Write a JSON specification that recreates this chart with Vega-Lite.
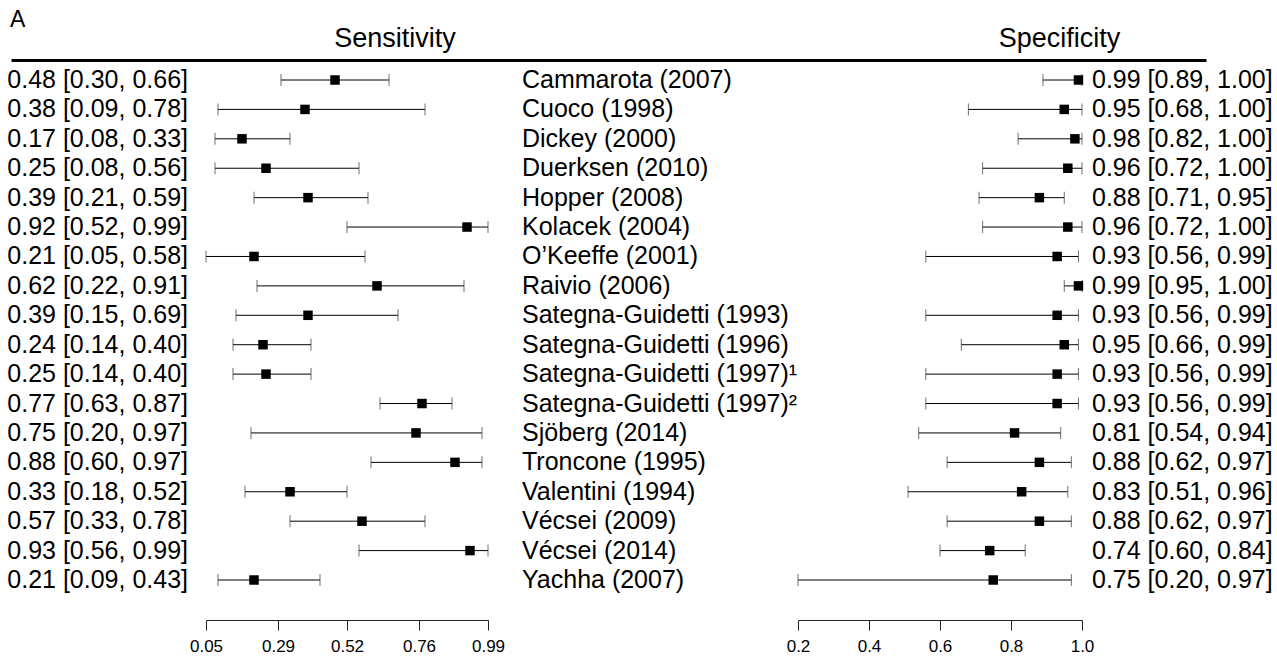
{
  "$schema": "https://vega.github.io/schema/vega-lite/v6.json",
  "width": 1277,
  "height": 560,
  "autosize": {"type": "none"},
  "padding": {"left": 0, "right": 0, "top": 60, "bottom": 44},
  "background": "white",
  "config": {"view": {"stroke": null}, "font": "Liberation Sans", "axis": {"grid": false, "labelFontSize": 17, "labelColor": "black", "labelFont": "Liberation Sans"}},
  "title": {"text": "A", "anchor": "start", "frame": "group", "fontSize": 23, "fontWeight": "normal", "font": "Liberation Sans", "color": "black", "dx": 10, "dy": 8, "offset": 0},
  "datasets": {
    "panels": [{"panel": "Sensitivity"}, {"panel": "Specificity"}],
    "studies": [
      {"study": "Cammarota (2007)", "sens": 0.48, "sens_lo": 0.30, "sens_hi": 0.66, "sens_label": "0.48 [0.30, 0.66]", "spec": 0.99, "spec_lo": 0.89, "spec_hi": 1.00, "spec_label": "0.99 [0.89, 1.00]"},
      {"study": "Cuoco (1998)", "sens": 0.38, "sens_lo": 0.09, "sens_hi": 0.78, "sens_label": "0.38 [0.09, 0.78]", "spec": 0.95, "spec_lo": 0.68, "spec_hi": 1.00, "spec_label": "0.95 [0.68, 1.00]"},
      {"study": "Dickey (2000)", "sens": 0.17, "sens_lo": 0.08, "sens_hi": 0.33, "sens_label": "0.17 [0.08, 0.33]", "spec": 0.98, "spec_lo": 0.82, "spec_hi": 1.00, "spec_label": "0.98 [0.82, 1.00]"},
      {"study": "Duerksen (2010)", "sens": 0.25, "sens_lo": 0.08, "sens_hi": 0.56, "sens_label": "0.25 [0.08, 0.56]", "spec": 0.96, "spec_lo": 0.72, "spec_hi": 1.00, "spec_label": "0.96 [0.72, 1.00]"},
      {"study": "Hopper (2008)", "sens": 0.39, "sens_lo": 0.21, "sens_hi": 0.59, "sens_label": "0.39 [0.21, 0.59]", "spec": 0.88, "spec_lo": 0.71, "spec_hi": 0.95, "spec_label": "0.88 [0.71, 0.95]"},
      {"study": "Kolacek (2004)", "sens": 0.92, "sens_lo": 0.52, "sens_hi": 0.99, "sens_label": "0.92 [0.52, 0.99]", "spec": 0.96, "spec_lo": 0.72, "spec_hi": 1.00, "spec_label": "0.96 [0.72, 1.00]"},
      {"study": "O’Keeffe (2001)", "sens": 0.21, "sens_lo": 0.05, "sens_hi": 0.58, "sens_label": "0.21 [0.05, 0.58]", "spec": 0.93, "spec_lo": 0.56, "spec_hi": 0.99, "spec_label": "0.93 [0.56, 0.99]"},
      {"study": "Raivio (2006)", "sens": 0.62, "sens_lo": 0.22, "sens_hi": 0.91, "sens_label": "0.62 [0.22, 0.91]", "spec": 0.99, "spec_lo": 0.95, "spec_hi": 1.00, "spec_label": "0.99 [0.95, 1.00]"},
      {"study": "Sategna-Guidetti (1993)", "sens": 0.39, "sens_lo": 0.15, "sens_hi": 0.69, "sens_label": "0.39 [0.15, 0.69]", "spec": 0.93, "spec_lo": 0.56, "spec_hi": 0.99, "spec_label": "0.93 [0.56, 0.99]"},
      {"study": "Sategna-Guidetti (1996)", "sens": 0.24, "sens_lo": 0.14, "sens_hi": 0.40, "sens_label": "0.24 [0.14, 0.40]", "spec": 0.95, "spec_lo": 0.66, "spec_hi": 0.99, "spec_label": "0.95 [0.66, 0.99]"},
      {"study": "Sategna-Guidetti (1997)¹", "sens": 0.25, "sens_lo": 0.14, "sens_hi": 0.40, "sens_label": "0.25 [0.14, 0.40]", "spec": 0.93, "spec_lo": 0.56, "spec_hi": 0.99, "spec_label": "0.93 [0.56, 0.99]"},
      {"study": "Sategna-Guidetti (1997)²", "sens": 0.77, "sens_lo": 0.63, "sens_hi": 0.87, "sens_label": "0.77 [0.63, 0.87]", "spec": 0.93, "spec_lo": 0.56, "spec_hi": 0.99, "spec_label": "0.93 [0.56, 0.99]"},
      {"study": "Sjöberg (2014)", "sens": 0.75, "sens_lo": 0.20, "sens_hi": 0.97, "sens_label": "0.75 [0.20, 0.97]", "spec": 0.81, "spec_lo": 0.54, "spec_hi": 0.94, "spec_label": "0.81 [0.54, 0.94]"},
      {"study": "Troncone (1995)", "sens": 0.88, "sens_lo": 0.60, "sens_hi": 0.97, "sens_label": "0.88 [0.60, 0.97]", "spec": 0.88, "spec_lo": 0.62, "spec_hi": 0.97, "spec_label": "0.88 [0.62, 0.97]"},
      {"study": "Valentini (1994)", "sens": 0.33, "sens_lo": 0.18, "sens_hi": 0.52, "sens_label": "0.33 [0.18, 0.52]", "spec": 0.83, "spec_lo": 0.51, "spec_hi": 0.96, "spec_label": "0.83 [0.51, 0.96]"},
      {"study": "Vécsei (2009)", "sens": 0.57, "sens_lo": 0.33, "sens_hi": 0.78, "sens_label": "0.57 [0.33, 0.78]", "spec": 0.88, "spec_lo": 0.62, "spec_hi": 0.97, "spec_label": "0.88 [0.62, 0.97]"},
      {"study": "Vécsei (2014)", "sens": 0.93, "sens_lo": 0.56, "sens_hi": 0.99, "sens_label": "0.93 [0.56, 0.99]", "spec": 0.74, "spec_lo": 0.60, "spec_hi": 0.84, "spec_label": "0.74 [0.60, 0.84]"},
      {"study": "Yachha (2007)", "sens": 0.21, "sens_lo": 0.09, "sens_hi": 0.43, "sens_label": "0.21 [0.09, 0.43]", "spec": 0.75, "spec_lo": 0.20, "spec_hi": 0.97, "spec_label": "0.75 [0.20, 0.97]"}
    ]
  },
  "layer": [
    {
      "data": {"name": "panels"},
      "mark": {"type": "point", "opacity": 0},
      "encoding": {
        "x": {"field": "panel", "type": "nominal",
          "scale": {"type": "point", "range": [11, 1206], "padding": 0.39917, "align": 0.7229},
          "axis": {"orient": "top", "title": null, "domain": true, "domainWidth": 3, "domainColor": "black", "domainCap": "butt", "ticks": false, "tickSize": 0, "labelAngle": 0, "labelFontSize": 27, "labelColor": "black", "labelPadding": 8, "labelFont": "Liberation Sans", "labelLimit": 400}}
      }
    },
    {
      "data": {"name": "studies"},
      "encoding": {
        "y": {"field": "study", "type": "nominal", "sort": null, "scale": {"type": "point", "range": [20, 520], "padding": 0}, "axis": null}
      },
      "layer": [
        {
          "mark": {"type": "rule", "color": "black", "strokeWidth": 1},
          "encoding": {
            "x": {"field": "sens_lo", "type": "quantitative",
              "scale": {"domain": [0.05, 0.99], "range": [206, 488], "zero": false, "nice": false},
              "axis": {"orient": "bottom", "values": [0.05, 0.29, 0.52, 0.76, 0.99], "format": ".2f", "title": null, "domainColor": "#222", "tickColor": "#222", "tickSize": 10, "labelFontSize": 17, "labelColor": "black", "labelPadding": 8, "labelFont": "Liberation Sans", "labelFlush": false, "labelOverlap": false, "grid": false}},
            "x2": {"field": "sens_hi"}
          }
        },
        {
          "mark": {"type": "tick", "color": "#333", "size": 12, "thickness": 1},
          "encoding": {"x": {"field": "sens_lo", "type": "quantitative"}}
        },
        {
          "mark": {"type": "tick", "color": "#333", "size": 12, "thickness": 1},
          "encoding": {"x": {"field": "sens_hi", "type": "quantitative"}}
        },
        {
          "mark": {"type": "square", "color": "black", "size": 90, "filled": true, "opacity": 1},
          "encoding": {"x": {"field": "sens", "type": "quantitative"}}
        },
        {
          "mark": {"type": "text", "align": "right", "baseline": "middle", "dx": -18, "fontSize": 25, "font": "Liberation Sans", "color": "black"},
          "encoding": {"x": {"datum": 0.05, "type": "quantitative"}, "text": {"field": "sens_label"}}
        },
        {
          "mark": {"type": "text", "align": "left", "baseline": "middle", "dx": 34, "fontSize": 25, "font": "Liberation Sans", "color": "black"},
          "encoding": {"x": {"datum": 0.99, "type": "quantitative"}, "text": {"field": "study"}}
        }
      ]
    },
    {
      "data": {"name": "studies"},
      "encoding": {
        "y": {"field": "study", "type": "nominal", "sort": null, "scale": {"type": "point", "range": [20, 520], "padding": 0}, "axis": null}
      },
      "layer": [
        {
          "mark": {"type": "rule", "color": "black", "strokeWidth": 1},
          "encoding": {
            "x": {"field": "spec_lo", "type": "quantitative",
              "scale": {"domain": [0.2, 1.0], "range": [798, 1082], "zero": false, "nice": false},
              "axis": {"orient": "bottom", "values": [0.2, 0.4, 0.6, 0.8, 1.0], "format": ".1f", "title": null, "domainColor": "#222", "tickColor": "#222", "tickSize": 10, "labelFontSize": 17, "labelColor": "black", "labelPadding": 8, "labelFont": "Liberation Sans", "labelFlush": false, "labelOverlap": false, "grid": false}},
            "x2": {"field": "spec_hi"}
          }
        },
        {
          "mark": {"type": "tick", "color": "#333", "size": 12, "thickness": 1},
          "encoding": {"x": {"field": "spec_lo", "type": "quantitative"}}
        },
        {
          "mark": {"type": "tick", "color": "#333", "size": 12, "thickness": 1},
          "encoding": {"x": {"field": "spec_hi", "type": "quantitative"}}
        },
        {
          "mark": {"type": "square", "color": "black", "size": 90, "filled": true, "opacity": 1},
          "encoding": {"x": {"field": "spec", "type": "quantitative"}}
        },
        {
          "mark": {"type": "text", "align": "left", "baseline": "middle", "dx": 10, "fontSize": 25, "font": "Liberation Sans", "color": "black"},
          "encoding": {"x": {"datum": 1.0, "type": "quantitative"}, "text": {"field": "spec_label"}}
        }
      ]
    }
  ],
  "resolve": {"scale": {"x": "independent", "y": "independent"}, "axis": {"x": "independent", "y": "independent"}}
}
